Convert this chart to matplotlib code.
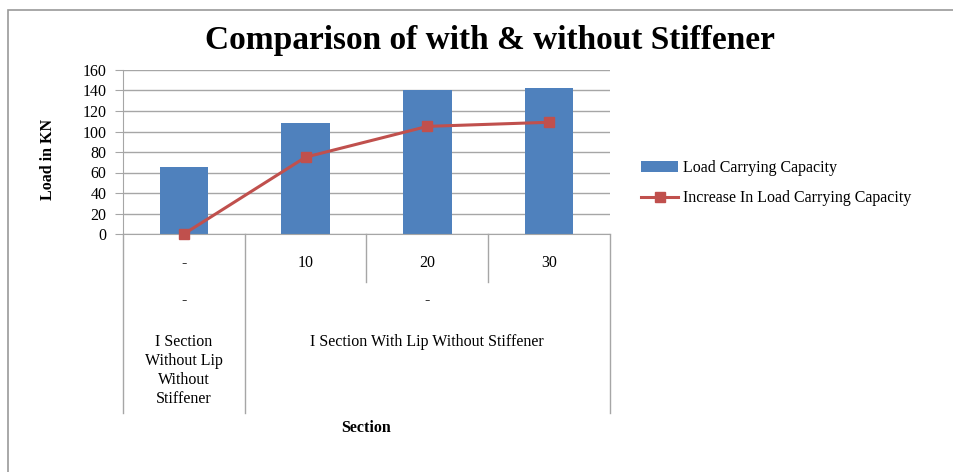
import matplotlib.pyplot as plt
from matplotlib.lines import Line2D
from matplotlib.patches import Patch, Rectangle

plt.rcParams["font.family"] = ["Liberation Serif", "DejaVu Serif"]

# chart data
tick_labels = ["-", "10", "20", "30"]
load_capacity = [65, 108, 140, 142]
increase_capacity = [0, 75, 105, 109]
group_labels = ["I Section\nWithout Lip\nWithout\nStiffener",
                "I Section With Lip Without Stiffener"]
group_spans = [(-0.5, 0.5), (0.5, 3.5)]

blue = "#4F81BD"
red = "#C0504D"
grid_col = "#A6A6A6"
fs = 11.5

W, H = 954, 472
fig = plt.figure(figsize=(W / 100, H / 100), dpi=100)

# outer chart border
fig.patches.append(Rectangle((8 / W, -0.05), 1.2, 1 - 10 / H + 0.05,
                             transform=fig.transFigure, fill=False,
                             edgecolor="#9A9A9A", linewidth=1.2))

ax_l, ax_r, ax_t, ax_b = 123, 610, 70, 234
ax = fig.add_axes([ax_l / W, 1 - ax_b / H, (ax_r - ax_l) / W, (ax_b - ax_t) / H])
ax_h = ax_b - ax_t

x = range(len(tick_labels))
ax.bar(x, load_capacity, width=0.4, color=blue, zorder=2)
ax.plot(x, increase_capacity, color=red, linewidth=2.2, marker="s",
        markersize=7, zorder=3, clip_on=False)

ax.set_xlim(-0.5, 3.5)
ax.set_ylim(0, 160)
ax.set_yticks(range(0, 161, 20))
ax.yaxis.grid(True, color=grid_col, linewidth=1)
ax.set_axisbelow(True)
for s in ["top", "right"]:
    ax.spines[s].set_visible(False)
ax.spines["left"].set_color(grid_col)
ax.spines["bottom"].set_color(grid_col)
ax.tick_params(axis="y", length=6, color=grid_col, labelsize=fs, pad=6)
ax.set_xticks(list(x))
ax.set_xticklabels(tick_labels, fontsize=fs)
ax.tick_params(axis="x", length=0, pad=15)

fig.text(48 / W, 1 - 160 / H, "Load in KN", rotation=90, ha="center",
         va="center", fontsize=fs, fontweight="bold")

# multi-level category axis
tr = ax.get_xaxis_transform()


def frac(px):
    return -px / ax_h


for xs in [-0.5, 0.5, 1.5, 2.5, 3.5]:
    bottom = 179 if xs in (-0.5, 0.5, 3.5) else 48
    ax.plot([xs, xs], [0, frac(bottom)], transform=tr, color=grid_col,
            linewidth=1, clip_on=False)

for (a, b), lab in zip(group_spans, group_labels):
    mid = (a + b) / 2
    ax.text(mid, frac(66), "-", transform=tr, ha="center", va="center",
            fontsize=fs)
    ax.text(mid, frac(100), lab, transform=tr, ha="center", va="top",
            fontsize=fs, linespacing=1.25)

ax.text(1.5, frac(194), "Section", transform=tr, ha="center", va="center",
        fontsize=fs, fontweight="bold")

fig.text(490 / W, 1 - 40 / H, "Comparison of with & without Stiffener",
         ha="center", va="center", fontsize=24, fontweight="bold")

handles = [Patch(facecolor=blue),
           Line2D([], [], color=red, linewidth=2.2, marker="s", markersize=7)]
fig.legend(handles, ["Load Carrying Capacity",
                     "Increase In Load Carrying Capacity"],
           loc="center left", bbox_to_anchor=(627 / W, 1 - 183 / H),
           frameon=False, fontsize=fs, handlelength=2.3, handletextpad=0.3,
           labelspacing=0.9)

fig.savefig("out.png", dpi=100)
